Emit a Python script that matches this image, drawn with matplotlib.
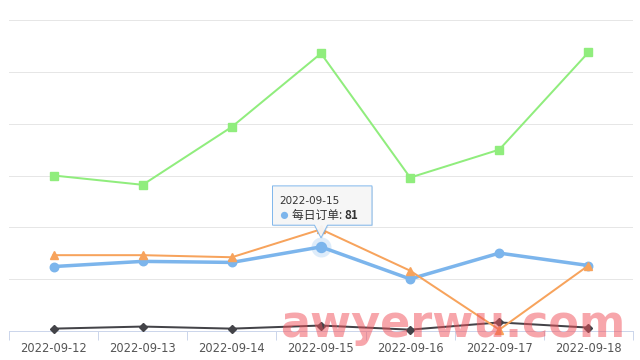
import matplotlib
matplotlib.use("Agg")
import matplotlib.pyplot as plt
from matplotlib.patches import Polygon, Circle
from matplotlib.transforms import IdentityTransform

categories = ["2022-09-12", "2022-09-13", "2022-09-14", "2022-09-15",
              "2022-09-16", "2022-09-17", "2022-09-18"]
daily_orders = [62, 67, 66, 81, 50, 75, 63]      # blue (每日订单)
series_dark = [2, 4, 2, 5, 1, 8, 3]
series_green = [150, 141, 197, 268, 148, 175, 269]
series_orange = [73, 73, 71, 98, 58, 1, 63]
hover_index = 3
series_name = "每日订单"

W, H = 640, 360
fig = plt.figure(figsize=(6.4, 3.6), dpi=100)
fig.patch.set_facecolor("white")
PX = 0.72  # points per pixel

ax = fig.add_axes([9 / W, 29.3 / H, 624 / W, 310.4 / H])
ax.set_facecolor("white")
x = list(range(len(categories)))
ax.set_xlim(-0.5, len(categories) - 0.5)
ax.set_ylim(0, 300)

for v in range(50, 301, 50):
    ax.axhline(v, color="#e6e6e6", lw=1 * PX, zorder=0)

for s in ["left", "right", "top"]:
    ax.spines[s].set_visible(False)
ax.spines["bottom"].set_color("#ccd6eb")
ax.spines["bottom"].set_linewidth(1 * PX)
ax.set_yticks([])

ax.set_xticks(x)
ax.set_xticklabels(categories, fontsize=8.3, color="#555555", family="DejaVu Sans")
ax.tick_params(axis="x", which="major", length=0, pad=8)
ax.set_xticks([i - 0.5 for i in range(len(categories) + 1)], minor=True)
ax.tick_params(axis="x", which="minor", length=9 * PX, width=1 * PX, color="#ccd6eb")

# series
ax.plot(x, daily_orders, color="#7cb5ec", lw=3.5 * PX, marker="o",
        markersize=8.5 * PX, zorder=3, clip_on=False)
ax.plot(x, series_dark, color="#434348", lw=2 * PX, marker="D",
        markersize=6 * PX, zorder=4, clip_on=False)
ax.plot(x, series_green, color="#90ed7d", lw=2 * PX, marker="s",
        markersize=7.5 * PX, zorder=5, clip_on=False)
ax.plot(x, series_orange, color="#f7a35c", lw=2 * PX, marker="^",
        markersize=8.5 * PX, zorder=6, clip_on=False)

# hover halo + bigger marker
ax.plot([hover_index], [daily_orders[hover_index]], marker="o", ls="none",
        markersize=20 * PX, color="#7cb5ec", alpha=0.25, zorder=2.9,
        markeredgewidth=0, clip_on=False)
ax.plot([hover_index], [daily_orders[hover_index]], marker="o", ls="none",
        markersize=10 * PX, color="#7cb5ec", zorder=3.1, clip_on=False)

# tooltip
fig.canvas.draw()
px_, py_ = ax.transData.transform((hover_index, daily_orders[hover_index]))
L, R, T, B = -48.5, 51, 61, 21.7
verts = [(px_ + L, py_ + B), (px_ - 6.5, py_ + B), (px_, py_ + 9),
         (px_ + 6.5, py_ + B), (px_ + R, py_ + B), (px_ + R, py_ + T),
         (px_ + L, py_ + T)]
shadow = Polygon([(a + 1, b - 1) for a, b in verts], closed=True,
                 transform=IdentityTransform(), facecolor="#000000", alpha=0.08,
                 edgecolor="none", zorder=9)
fig.add_artist(shadow)
tip = Polygon(verts, closed=True, transform=IdentityTransform(),
              facecolor="#f7f7f7", edgecolor="#7cb5ec", lw=1 * PX, zorder=10,
              alpha=0.95)
fig.add_artist(tip)

fig.text(px_ - 41.5, py_ + 46, categories[hover_index], transform=IdentityTransform(),
         fontsize=7.5, color="#333333", va="center", ha="left",
         family="DejaVu Sans", zorder=11)
fig.add_artist(Circle((px_ - 36.5, py_ + 31.5), 3.6, transform=IdentityTransform(),
                      facecolor="#7cb5ec", edgecolor="none", zorder=11))
t1 = fig.text(px_ - 29, py_ + 31.5, series_name + ": ", transform=IdentityTransform(),
              fontsize=8.5, color="#333333", va="center", ha="left",
              family=["Noto Sans CJK SC", "DejaVu Sans"], zorder=11)
fig.canvas.draw()
bb = t1.get_window_extent()
fig.text(bb.x1, py_ + 31.5, str(daily_orders[hover_index]), transform=IdentityTransform(),
         fontsize=8.5, color="#333333", va="center", ha="left", weight="bold",
         family=["Noto Sans CJK SC", "DejaVu Sans"], zorder=11)

# watermark
fig.text(280 / W, (H - 337) / H, "awyerwu.com", fontsize=32, weight="bold",
         color=(0.94, 0.31, 0.35), alpha=0.5, family="DejaVu Sans",
         ha="left", va="baseline", zorder=20)

fig.savefig("out.png", dpi=100, facecolor="white")
